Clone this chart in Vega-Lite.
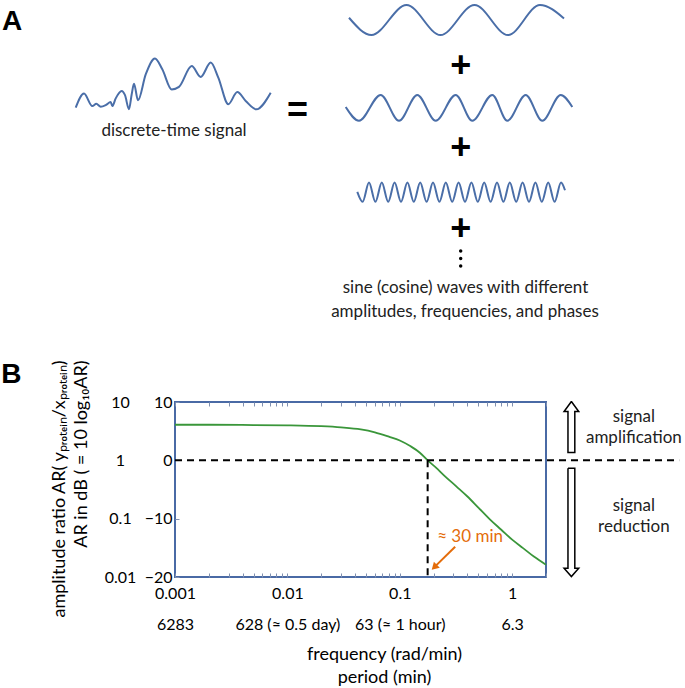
{
  "$schema": "https://vega.github.io/schema/vega-lite/v6.json",
  "padding": {"left": 0, "top": 0, "right": 0, "bottom": 0},
  "spacing": 35,
  "config": {
    "view": {"stroke": null},
    "font": "Lato",
    "axis": {"labelFont": "Lato", "titleFont": "Lato"},
    "text": {"font": "Lato"}
  },
  "vconcat": [
    {
      "width": 400,
      "height": 320,
      "layer": [
        {
          "data": {"values": [
            {"wave": "signal", "x": 0.14, "y": 67.6}, {"wave": "signal", "x": 1.8, "y": 72.0}, {"wave": "signal", "x": 3.46, "y": 68.1},
            {"wave": "signal", "x": 4.26, "y": 68.8}, {"wave": "signal", "x": 5.14, "y": 67.9}, {"wave": "signal", "x": 6.14, "y": 68.4},
            {"wave": "signal", "x": 7.14, "y": 69.4}, {"wave": "signal", "x": 7.46, "y": 68.1}, {"wave": "signal", "x": 8.14, "y": 70.5},
            {"wave": "signal", "x": 9.34, "y": 72.8}, {"wave": "signal", "x": 10.0, "y": 71.5}, {"wave": "signal", "x": 10.8, "y": 67.1},
            {"wave": "signal", "x": 11.34, "y": 71.8}, {"wave": "signal", "x": 11.8, "y": 75.1}, {"wave": "signal", "x": 12.6, "y": 69.9},
            {"wave": "signal", "x": 14.14, "y": 78.0}, {"wave": "signal", "x": 16.0, "y": 83.0}, {"wave": "signal", "x": 17.46, "y": 79.6},
            {"wave": "signal", "x": 19.34, "y": 73.3}, {"wave": "signal", "x": 20.8, "y": 74.1}, {"wave": "signal", "x": 23.34, "y": 80.6},
            {"wave": "signal", "x": 25.14, "y": 77.2}, {"wave": "signal", "x": 27.14, "y": 81.7}, {"wave": "signal", "x": 28.66, "y": 77.0},
            {"wave": "signal", "x": 30.66, "y": 68.7}, {"wave": "signal", "x": 32.46, "y": 72.5}, {"wave": "signal", "x": 34.14, "y": 69.7},
            {"wave": "signal", "x": 36.26, "y": 67.1}, {"wave": "signal", "x": 39.14, "y": 72.3},
            {"wave": "w1", "x": 54.8, "y": 95.7}, {"wave": "w1", "x": 59.3, "y": 90.3}, {"wave": "w1", "x": 66.3, "y": 99.7},
            {"wave": "w1", "x": 73.1, "y": 90.3}, {"wave": "w1", "x": 79.9, "y": 99.7}, {"wave": "w1", "x": 86.6, "y": 90.3},
            {"wave": "w1", "x": 93.0, "y": 99.7}, {"wave": "w1", "x": 97.8, "y": 95.5},
            {"wave": "w2", "x": 54.14, "y": 67.8}, {"wave": "w2", "x": 56.8, "y": 63.5}, {"wave": "w2", "x": 61.14, "y": 71.6},
            {"wave": "w2", "x": 64.8, "y": 63.5}, {"wave": "w2", "x": 68.46, "y": 71.6}, {"wave": "w2", "x": 72.14, "y": 63.5},
            {"wave": "w2", "x": 76.14, "y": 71.6}, {"wave": "w2", "x": 79.46, "y": 63.5}, {"wave": "w2", "x": 83.46, "y": 71.6},
            {"wave": "w2", "x": 86.46, "y": 63.5}, {"wave": "w2", "x": 90.14, "y": 71.6}, {"wave": "w2", "x": 93.46, "y": 63.5},
            {"wave": "w2", "x": 97.14, "y": 71.6}, {"wave": "w2", "x": 99.46, "y": 67.8},
            {"wave": "w3", "x": 56.46, "y": 41.3},
            {"wave": "w3", "x": 57.52, "y": 38.2}, {"wave": "w3", "x": 58.8, "y": 44.2},
            {"wave": "w3", "x": 60.08, "y": 38.2}, {"wave": "w3", "x": 61.36, "y": 44.2},
            {"wave": "w3", "x": 62.64, "y": 38.2}, {"wave": "w3", "x": 63.92, "y": 44.2},
            {"wave": "w3", "x": 65.2, "y": 38.2}, {"wave": "w3", "x": 66.48, "y": 44.2},
            {"wave": "w3", "x": 67.76, "y": 38.2}, {"wave": "w3", "x": 69.04, "y": 44.2},
            {"wave": "w3", "x": 70.32, "y": 38.2}, {"wave": "w3", "x": 71.6, "y": 44.2},
            {"wave": "w3", "x": 72.88, "y": 38.2}, {"wave": "w3", "x": 74.16, "y": 44.2},
            {"wave": "w3", "x": 75.44, "y": 38.2}, {"wave": "w3", "x": 76.72, "y": 44.2},
            {"wave": "w3", "x": 78.0, "y": 38.2}, {"wave": "w3", "x": 79.28, "y": 44.2},
            {"wave": "w3", "x": 80.56, "y": 38.2}, {"wave": "w3", "x": 81.84, "y": 44.2},
            {"wave": "w3", "x": 83.12, "y": 38.2}, {"wave": "w3", "x": 84.4, "y": 44.2},
            {"wave": "w3", "x": 85.68, "y": 38.2}, {"wave": "w3", "x": 86.96, "y": 44.2},
            {"wave": "w3", "x": 88.24, "y": 38.2}, {"wave": "w3", "x": 89.52, "y": 44.2},
            {"wave": "w3", "x": 90.8, "y": 38.2}, {"wave": "w3", "x": 92.08, "y": 44.2},
            {"wave": "w3", "x": 93.36, "y": 38.2}, {"wave": "w3", "x": 94.64, "y": 44.2},
            {"wave": "w3", "x": 95.92, "y": 38.2}, {"wave": "w3", "x": 97.2, "y": 44.2},
            {"wave": "w3", "x": 98.0, "y": 41.8}
          ]},
          "mark": {"type": "line", "interpolate": "monotone", "strokeWidth": 2, "color": "#4a6ea8"},
          "encoding": {
            "x": {"field": "x", "type": "quantitative", "scale": {"domain": [0, 100], "range": [-100, 400], "nice": false, "zero": false}, "axis": null},
            "y": {"field": "y", "type": "quantitative", "scale": {"domain": [0, 100], "nice": false, "zero": false}, "axis": null},
            "detail": {"field": "wave"}
          }
        },
        {
          "data": {"values": [
            {"label": "=", "x": 44.5, "y": 66.6},
            {"label": "+", "x": 77.14, "y": 80.6},
            {"label": "+", "x": 77.14, "y": 55.1},
            {"label": "+", "x": 77.14, "y": 29.6}
          ]},
          "mark": {"type": "text", "font": "Liberation Sans", "fontWeight": "bold", "fontSize": 36, "align": "center", "baseline": "middle", "color": "#000000"},
          "encoding": {
            "x": {"field": "x", "type": "quantitative"},
            "y": {"field": "y", "type": "quantitative"},
            "text": {"field": "label"}
          }
        },
        {
          "data": {"values": [{"label": "A", "x": -14.6, "y": 91.9}]},
          "mark": {"type": "text", "font": "Liberation Sans", "fontWeight": "bold", "fontSize": 28, "align": "left", "baseline": "alphabetic", "color": "#000000"},
          "encoding": {
            "x": {"field": "x", "type": "quantitative"},
            "y": {"field": "y", "type": "quantitative"},
            "text": {"field": "label"}
          }
        },
        {
          "data": {"values": [
            {"x": 77.14, "y": 22.8}, {"x": 77.14, "y": 20.5}, {"x": 77.14, "y": 18.1}
          ]},
          "mark": {"type": "point", "shape": "circle", "filled": true, "size": 12, "color": "#000000", "opacity": 1},
          "encoding": {
            "x": {"field": "x", "type": "quantitative"},
            "y": {"field": "y", "type": "quantitative"}
          }
        },
        {
          "data": {"values": [
            {"label": "discrete-time signal", "x": 19.8, "y": 60.3},
            {"label": "sine (cosine) waves with different", "x": 78.1, "y": 11.25},
            {"label": "amplitudes, frequencies, and phases", "x": 78.0, "y": 3.75}
          ]},
          "mark": {"type": "text", "fontSize": 17, "align": "center", "baseline": "middle", "color": "#222222"},
          "encoding": {
            "x": {"field": "x", "type": "quantitative"},
            "y": {"field": "y", "type": "quantitative"},
            "text": {"field": "label"}
          }
        }
      ]
    },
    {
      "width": 371,
      "height": 175,
      "view": {"stroke": "#4a6aa5", "strokeWidth": 2},
      "layer": [
        {
          "layer": [
            {
              "data": {"values": [
                {"f": 0.001, "db": 6.1}, {"f": 0.002, "db": 6.1}, {"f": 0.005, "db": 6.05}, {"f": 0.01, "db": 6.0},
                {"f": 0.02, "db": 5.85}, {"f": 0.03, "db": 5.65}, {"f": 0.045, "db": 5.3}, {"f": 0.06, "db": 4.8},
                {"f": 0.08, "db": 4.05}, {"f": 0.1, "db": 3.4}, {"f": 0.125, "db": 2.4}, {"f": 0.15, "db": 1.35},
                {"f": 0.177, "db": 0}, {"f": 0.21, "db": -1.25}, {"f": 0.25, "db": -2.65}, {"f": 0.32, "db": -4.5},
                {"f": 0.4, "db": -6.2}, {"f": 0.5, "db": -8.1}, {"f": 0.64, "db": -10.2}, {"f": 0.8, "db": -11.9},
                {"f": 1.0, "db": -13.6}, {"f": 1.25, "db": -15.05}, {"f": 1.56, "db": -16.5}, {"f": 2.0, "db": -17.9}
              ]},
              "mark": {"type": "line", "interpolate": "monotone", "color": "#3a963a", "strokeWidth": 1.8},
              "encoding": {
                "x": {
                  "field": "f", "type": "quantitative",
                  "scale": {"type": "log", "domain": [0.001, 2], "nice": false},
                  "axis": {
                    "values": [0.001, 0.002, 0.003, 0.004, 0.005, 0.006, 0.007, 0.008, 0.009, 0.01, 0.02, 0.03, 0.04, 0.05, 0.06, 0.07, 0.08, 0.09, 0.1, 0.2, 0.3, 0.4, 0.5, 0.6, 0.7, 0.8, 0.9, 1, 2],
                    "labelExpr": "datum.value == 0.001 ? ['0.001', '6283'] : datum.value == 0.01 ? ['0.01', '628 (≈ 0.5 day)'] : datum.value == 0.1 ? ['0.1', '63 (≈ 1 hour)'] : datum.value == 1 ? ['1', '6.3'] : ''",
                    "tickSize": -4, "tickColor": "#8090b0", "domain": false, "grid": false,
                    "labelFontSize": 16, "labelColor": "#000000", "labelPadding": 12, "labelLineHeight": 31,
                    "labelOverlap": false, "labelFlush": false, "labelBound": false,
                    "title": ["frequency (rad/min)", "period (min)"],
                    "titleFontSize": 18, "titleFontWeight": "normal", "titleColor": "#000000",
                    "titleX": 209, "titleY": 68, "titleAlign": "center", "titleBaseline": "top", "titleLineHeight": 23
                  }
                },
                "y": {
                  "field": "db", "type": "quantitative",
                  "scale": {"domain": [-20, 10], "nice": false, "zero": false},
                  "axis": {
                    "values": [-20, -10, 0, 10],
                    "tickSize": -4, "tickColor": "#8090b0", "domain": false, "grid": false,
                    "labelFontSize": 16, "labelColor": "#000000", "labelPadding": 7,
                    "title": ["amplitude ratio  AR( yₚᵣₒₜₑᵢₙ/xₚᵣₒₜₑᵢₙ)", "AR in dB ( = 10 log₁₀AR)"],
                    "titleFontSize": 18, "titleFontWeight": "normal", "titleColor": "#000000",
                    "titleAngle": 270, "titleX": -125, "titleY": -42, "titleAlign": "right", "titleBaseline": "top", "titleLineHeight": 22
                  }
                }
              }
            },
            {
              "data": {"values": [{"f": 0.001, "f2": 30.6, "db": 0}]},
              "mark": {"type": "rule", "strokeDash": [7, 5], "strokeWidth": 2, "color": "#000000"},
              "encoding": {
                "x": {"field": "f", "type": "quantitative"},
                "x2": {"field": "f2"},
                "y": {"field": "db", "type": "quantitative"}
              }
            },
            {
              "data": {"values": [{"f": 0.177, "db": 0, "db2": -20}]},
              "mark": {"type": "rule", "strokeDash": [7, 5], "strokeWidth": 2, "color": "#000000"},
              "encoding": {
                "x": {"field": "f", "type": "quantitative"},
                "y": {"field": "db", "type": "quantitative"},
                "y2": {"field": "db2"}
              }
            },
            {
              "data": {"values": [
                {"arrow": "up", "i": 1, "f": 3.365, "db": 10.09}, {"arrow": "up", "i": 2, "f": 3.91, "db": 8.37},
                {"arrow": "up", "i": 3, "f": 3.609, "db": 8.37}, {"arrow": "up", "i": 4, "f": 3.609, "db": 1.34},
                {"arrow": "up", "i": 5, "f": 3.137, "db": 1.34}, {"arrow": "up", "i": 6, "f": 3.137, "db": 8.37},
                {"arrow": "up", "i": 7, "f": 2.896, "db": 8.37}, {"arrow": "up", "i": 8, "f": 3.365, "db": 10.09},
                {"arrow": "down", "i": 1, "f": 3.137, "db": -1.34}, {"arrow": "down", "i": 2, "f": 3.609, "db": -1.34},
                {"arrow": "down", "i": 3, "f": 3.609, "db": -18.49}, {"arrow": "down", "i": 4, "f": 3.91, "db": -18.49},
                {"arrow": "down", "i": 5, "f": 3.365, "db": -19.93}, {"arrow": "down", "i": 6, "f": 2.896, "db": -18.49},
                {"arrow": "down", "i": 7, "f": 3.137, "db": -18.49}, {"arrow": "down", "i": 8, "f": 3.137, "db": -1.34}
              ]},
              "mark": {"type": "line", "color": "#000000", "strokeWidth": 1.5, "strokeJoin": "miter"},
              "encoding": {
                "x": {"field": "f", "type": "quantitative"},
                "y": {"field": "db", "type": "quantitative"},
                "detail": {"field": "arrow"},
                "order": {"field": "i", "type": "quantitative"}
              }
            },
            {
              "data": {"values": [{"f": 0.311, "db": -14.8, "f2": 0.2064, "db2": -18.18}]},
              "mark": {"type": "rule", "strokeWidth": 2, "color": "#e46c0a"},
              "encoding": {
                "x": {"field": "f", "type": "quantitative"},
                "y": {"field": "db", "type": "quantitative"},
                "x2": {"field": "f2"},
                "y2": {"field": "db2"}
              }
            },
            {
              "data": {"values": [{"f": 0.2064, "db": -18.18}]},
              "mark": {"type": "point", "shape": "triangle", "angle": 225, "filled": true, "size": 70, "color": "#e46c0a", "opacity": 1},
              "encoding": {
                "x": {"field": "f", "type": "quantitative"},
                "y": {"field": "db", "type": "quantitative"}
              }
            },
            {
              "data": {"values": [{"label": "≈ 30 min", "f": 0.215, "db": -13.07}]},
              "mark": {"type": "text", "fontSize": 17, "align": "left", "baseline": "middle", "color": "#e46c0a"},
              "encoding": {
                "x": {"field": "f", "type": "quantitative"},
                "y": {"field": "db", "type": "quantitative"},
                "text": {"field": "label"}
              }
            },
            {
              "data": {"values": [
                {"label": "signal", "f": 12.1, "db": 7.5},
                {"label": "amplification", "f": 12.1, "db": 3.8},
                {"label": "signal", "f": 12.1, "db": -7.9},
                {"label": "reduction", "f": 12.1, "db": -11.4}
              ]},
              "mark": {"type": "text", "fontSize": 17, "align": "center", "baseline": "middle", "color": "#222222"},
              "encoding": {
                "x": {"field": "f", "type": "quantitative"},
                "y": {"field": "db", "type": "quantitative"},
                "text": {"field": "label"}
              }
            },
            {
              "data": {"values": [{"label": "B", "f": 0.0000284, "db": 13.29}]},
              "mark": {"type": "text", "font": "Liberation Sans", "fontWeight": "bold", "fontSize": 28, "align": "left", "baseline": "alphabetic", "color": "#000000"},
              "encoding": {
                "x": {"field": "f", "type": "quantitative"},
                "y": {"field": "db", "type": "quantitative"},
                "text": {"field": "label"}
              }
            }
          ]
        },
        {
          "data": {"values": [{"ar": 0.01, "f": 0.001}, {"ar": 10, "f": 2}]},
          "mark": {"type": "point", "opacity": 0},
          "encoding": {
            "x": {
              "field": "f", "type": "quantitative",
              "axis": {
                "orient": "top",
                "values": [0.001, 0.002, 0.003, 0.004, 0.005, 0.006, 0.007, 0.008, 0.009, 0.01, 0.02, 0.03, 0.04, 0.05, 0.06, 0.07, 0.08, 0.09, 0.1, 0.2, 0.3, 0.4, 0.5, 0.6, 0.7, 0.8, 0.9, 1, 2],
                "labels": false, "tickSize": -4, "tickColor": "#8090b0", "domain": false, "grid": false, "title": null
              }
            },
            "y": {
              "field": "ar", "type": "quantitative",
              "scale": {"type": "log", "domain": [0.01, 10], "nice": false},
              "axis": {
                "orient": "left",
                "values": [0.01, 0.1, 1, 10],
                "labelExpr": "datum.value == 0.01 ? '0.01' : datum.value == 0.1 ? '0.1' : datum.value == 1 ? '1' : '10'",
                "ticks": false, "domain": false, "grid": false,
                "labelPadding": 55, "labelAlign": "center", "labelFontSize": 16, "labelColor": "#000000",
                "title": null
              }
            }
          }
        }
      ],
      "resolve": {"scale": {"y": "independent"}, "axis": {"x": "independent", "y": "independent"}}
    }
  ]
}
